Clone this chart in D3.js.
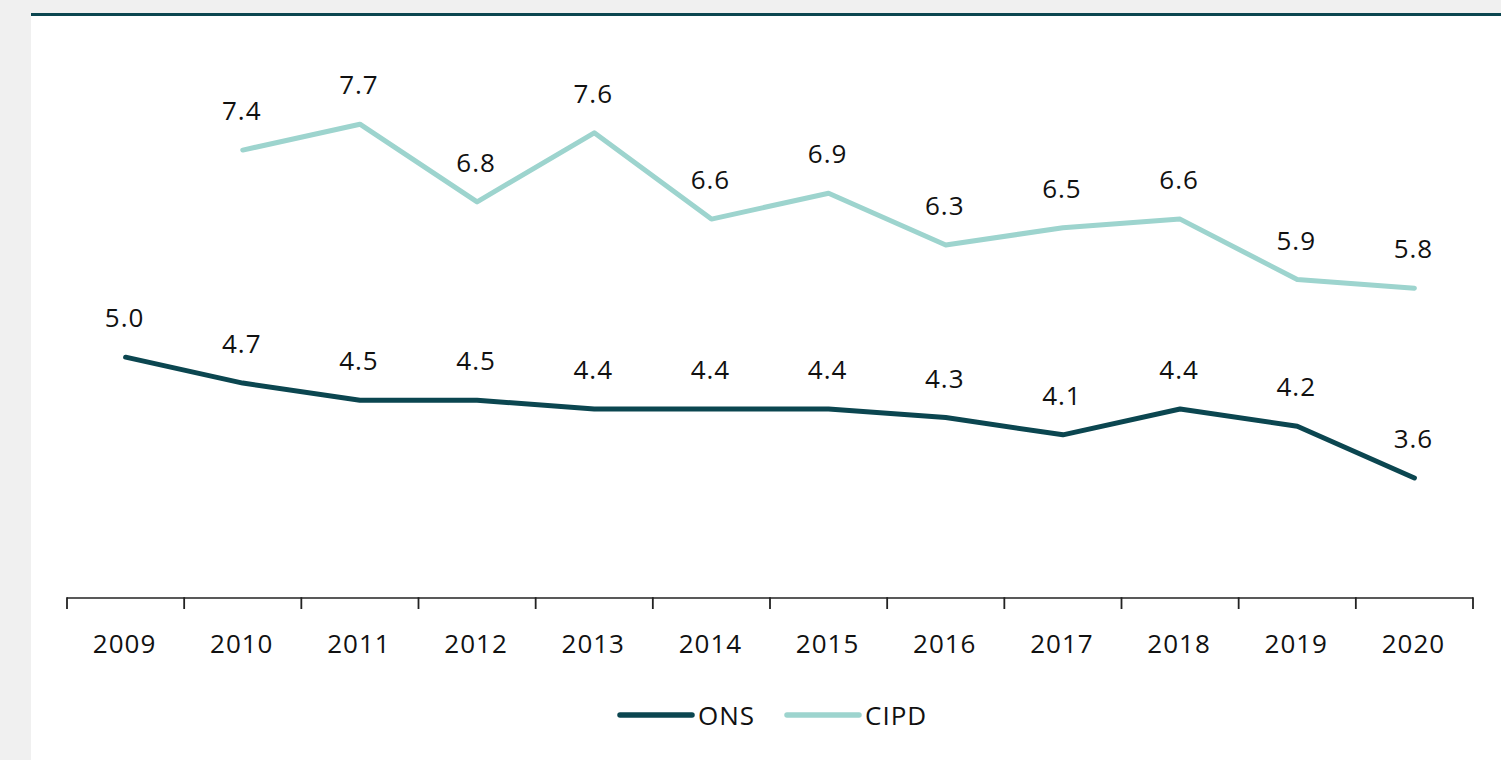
<!DOCTYPE html>
<html>
<head>
<meta charset="utf-8">
<script src="https://cdn.jsdelivr.net/npm/d3@7.9.0/dist/d3.min.js"></script>
<style>
  html, body { margin: 0; padding: 0; background: #f0f0f0; }
  #chart { position: absolute; left: 0; top: 0; }
  text { font-family: "Open Sans", "Noto Sans", sans-serif; fill: #111; letter-spacing: 1px; }
</style>
</head>
<body>
<svg id="chart" width="1501" height="760"></svg>
<script>
const years = ['2009', '2010', '2011', '2012', '2013', '2014', '2015', '2016', '2017', '2018', '2019', '2020'];
const onsValues = [5.0, 4.7, 4.5, 4.5, 4.4, 4.4, 4.4, 4.3, 4.1, 4.4, 4.2, 3.6];
// CIPD starts in 2010
const cipdValues = [null, 7.4, 7.7, 6.8, 7.6, 6.6, 6.9, 6.3, 6.5, 6.6, 5.9, 5.8];
const seriesNames = ['ONS', 'CIPD'];

const colors = { ONS: '#0b4650', CIPD: '#9dd4ce' };

const width = 1501;
const height = 760;
const margin = { left: 67, right: 28, axisY: 598.8, top: 98.3 };
const fontSize = '26px';

const svg = d3.select('#chart');

// white panel with dark rule on top
svg.append('rect')
    .attr('x', 31).attr('y', 13)
    .attr('width', width - 31).attr('height', height - 13)
    .attr('fill', '#fff');
svg.append('rect')
    .attr('x', 31).attr('y', 13)
    .attr('width', width - 31).attr('height', 3)
    .attr('fill', '#0b4650');

const xScale = d3.scaleBand()
    .domain(years)
    .range([margin.left, width - margin.right]);

const yScale = d3.scaleLinear()
    .domain([2.2, 8.0])
    .range([margin.axisY, margin.top]);

// x axis: ticks on band edges
const axis = svg.append('g').attr('class', 'x-axis');
axis.append('line')
    .attr('x1', xScale.range()[0]).attr('x2', xScale.range()[1])
    .attr('y1', 598).attr('y2', 598)
    .attr('stroke', '#222').attr('stroke-width', 1.6);

const edges = years.map(y => xScale(y)).concat([xScale.range()[1]]);
axis.selectAll('line.tick')
    .data(edges)
    .join('line')
    .attr('class', 'tick')
    .attr('x1', d => d).attr('x2', d => d)
    .attr('y1', 597.2).attr('y2', 609)
    .attr('stroke', '#222').attr('stroke-width', 1.8);

axis.selectAll('text')
    .data(years)
    .join('text')
    .attr('x', d => xScale(d) + xScale.bandwidth() / 2 - 1)
    .attr('y', 653)
    .attr('text-anchor', 'middle')
    .style('font-size', fontSize)
    .text(d => d);

const series = [
    { name: 'ONS', values: onsValues },
    { name: 'CIPD', values: cipdValues },
];

const line = d3.line()
    .defined(d => d.v != null)
    .x(d => xScale(d.year) + xScale.bandwidth() / 2)
    .y(d => yScale(d.v));

series.forEach(s => {
    const pts = years.map((year, i) => ({ year, v: s.values[i] }));
    svg.append('path')
        .datum(pts)
        .attr('fill', 'none')
        .attr('stroke', colors[s.name])
        .attr('stroke-width', 5)
        .attr('stroke-linecap', 'round')
        .attr('stroke-linejoin', 'round')
        .attr('d', line);

    svg.append('g')
        .selectAll('text')
        .data(pts.filter(d => d.v != null))
        .join('text')
        .attr('x', d => xScale(d.year) + xScale.bandwidth() / 2 - 1)
        .attr('y', d => yScale(d.v) - 30)
        .attr('text-anchor', 'middle')
        .style('font-size', fontSize)
        .text(d => d.v.toFixed(1));
});

// legend
const legend = svg.append('g').attr('class', 'legend');
const legendItems = [
    { name: 'ONS', x: 620 },
    { name: 'CIPD', x: 787 },
];
legendItems.forEach(item => {
    legend.append('line')
        .attr('x1', item.x).attr('x2', item.x + 72)
        .attr('y1', 715).attr('y2', 715)
        .attr('stroke', colors[item.name])
        .attr('stroke-width', 5.5)
        .attr('stroke-linecap', 'round');
    legend.append('text')
        .attr('x', item.x + 78)
        .attr('y', 724.5)
        .style('font-size', fontSize)
        .text(item.name);
});
</script>
</body>
</html>
